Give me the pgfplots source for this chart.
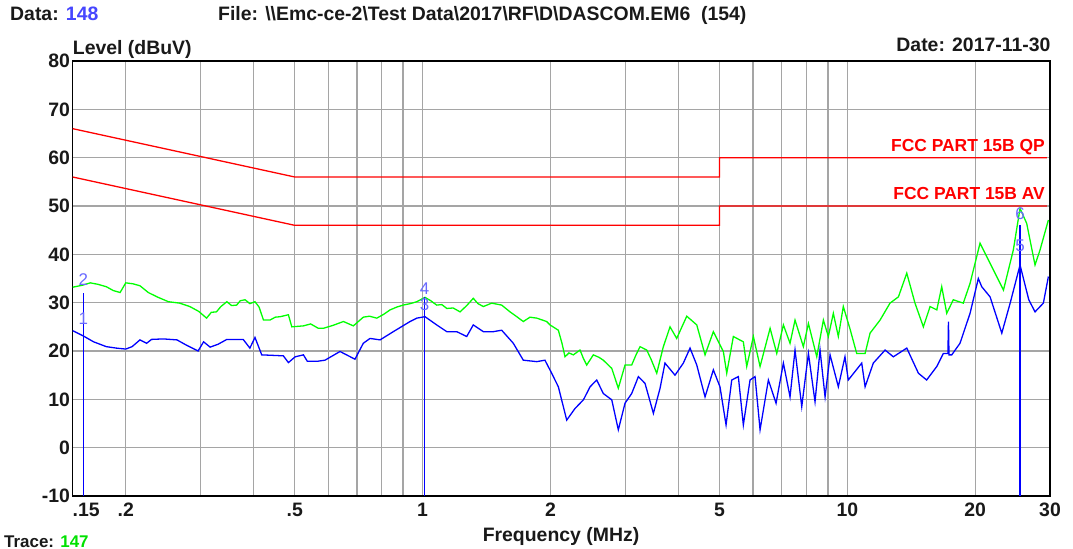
\documentclass[border=0pt]{standalone}
\usepackage{fontspec}
\setmainfont{Liberation Sans}
\usepackage{pgfplots}
\pgfplotsset{compat=1.18}
\definecolor{tgreen}{RGB}{0,255,0}
\definecolor{tblue}{RGB}{0,0,255}
\definecolor{tred}{RGB}{255,0,0}
\definecolor{mlab}{RGB}{105,105,255}
\definecolor{hblue}{RGB}{70,70,255}
\definecolor{hgreen}{RGB}{0,225,0}
\definecolor{tcol}{RGB}{25,25,25}
\definecolor{gridc}{RGB}{165,165,165}
\newcommand{\bigf}{\fontsize{19.5}{21}\selectfont}
\begin{document}
\begin{tikzpicture}
\useasboundingbox (-72.7bp,-53bp) rectangle (1000.3bp,496bp);
\begin{axis}[
  at={(0,0)}, anchor=south west,
  scale only axis, width=977.3bp, height=435bp,
  xmode=log, xmin=0.15, xmax=30, ymin=-10, ymax=80,
  clip=false,
  xtick={0.15,0.2,0.5,1,2,5,10,20,30},
  xticklabels={{\makebox[0pt][l]{.15}},.2,.5,1,2,5,10,20,30},
  minor xtick={0.3,0.4,0.6,0.7,0.8,0.9,3,4,6,7,8,9},
  ytick={-10,0,10,20,30,40,50,60,70,80},
  yticklabels={-10,0,10,20,30,40,50,60,70,80},
  grid=both,
  major grid style={gridc, line width=1.4bp},
  minor grid style={gridc, line width=1.4bp},
  major tick length=0pt, minor tick length=0pt,
  axis line style={black, line width=1.6bp},
  xticklabel style={font=\bfseries\bigf, text=tcol, anchor=north, inner sep=0pt, yshift=-6.5bp},
  yticklabel style={font=\bfseries\bigf, text=tcol, anchor=east, inner sep=0pt, xshift=-2.5bp},
]
% limit lines
\addplot[tred, line width=1.3bp] coordinates {(0.15,66) (0.5,56) (5,56) (5,60) (29.5,60)};
\addplot[tred, line width=1.3bp] coordinates {(0.15,56) (0.5,46) (5,46) (5,50) (29.5,50)};
% peak trace (green)
\addplot[tgreen, line width=1.3bp] coordinates {
(0.150,33.2) (0.158,33.6) (0.165,34.1) (0.172,33.8) (0.180,33.3) (0.187,32.5) (0.194,32.1) (0.200,34.1)
(0.208,33.9) (0.216,33.5) (0.226,32.1) (0.237,31.2) (0.252,30.2) (0.268,29.9) (0.283,29.2) (0.297,28.2)
(0.310,26.8) (0.318,28.0) (0.327,28.1) (0.335,29.2) (0.346,30.2) (0.355,29.4) (0.365,29.5) (0.372,30.4)
(0.382,30.6) (0.392,29.8) (0.403,30.2) (0.412,29.1) (0.422,26.4) (0.437,26.4) (0.450,27.0) (0.462,27.1)
(0.483,27.5) (0.492,25.0) (0.524,25.2) (0.545,25.6) (0.568,24.7) (0.584,24.7) (0.615,25.3) (0.651,26.1)
(0.687,25.2) (0.725,27.0) (0.750,27.2) (0.780,26.8) (0.810,27.6) (0.838,28.5) (0.870,29.1) (0.900,29.5)
(0.935,29.8) (0.969,30.2) (1.013,31.1) (1.045,30.4) (1.079,29.5) (1.110,29.6) (1.140,28.8) (1.180,28.9)
(1.225,28.1) (1.270,29.4) (1.316,30.9) (1.350,29.8) (1.390,29.2) (1.454,29.9) (1.535,29.5) (1.606,28.1)
(1.660,27.2) (1.726,26.1) (1.790,27.0) (1.857,26.8) (1.959,26.1) (1.995,25.4) (2.087,24.3) (2.130,21.5)
(2.164,18.8) (2.210,19.6) (2.264,19.2) (2.347,20.2) (2.390,18.5) (2.434,17.1) (2.523,19.2) (2.600,18.7)
(2.663,18.1) (2.788,16.4) (2.889,12.3) (2.996,17.1) (3.106,17.1) (3.180,19.2) (3.250,20.9) (3.370,20.2)
(3.450,18.3) (3.558,15.4) (3.688,20.9) (3.824,25.0) (3.965,22.6) (4.187,27.2) (4.420,25.4) (4.623,19.2)
(4.836,24.0) (5.105,19.9) (5.200,15.4) (5.390,23.0) (5.690,21.9) (5.796,16.8) (6.008,23.0) (6.230,16.8)
(6.578,24.7) (6.820,19.5) (7.070,25.4) (7.330,21.6) (7.531,26.4) (7.879,20.9) (8.097,25.7) (8.471,18.8)
(8.781,26.4) (9.021,23.0) (9.268,27.8) (9.522,23.0) (9.783,29.2) (10.15,24.5) (10.52,19.5) (11.01,19.5)
(11.31,23.7) (11.94,26.4) (12.60,29.9) (13.19,31.2) (13.80,36.1) (14.43,29.9) (15.10,25.0) (15.66,29.2)
(16.24,28.5) (16.68,33.3) (17.14,27.8) (17.76,30.6) (18.75,29.9) (19.45,34.0) (20.53,42.3) (21.30,39.5)
(22.30,36.0) (23.31,32.6) (24.59,40.9) (25.50,49.5) (26.44,46.4) (27.66,37.8) (28.42,40.9) (29.74,47.1)
};
% average trace (blue)
\addplot[tblue, line width=1.3bp] coordinates {
(0.150,24.2) (0.159,23.1) (0.168,21.9) (0.180,20.9) (0.190,20.6) (0.200,20.4) (0.207,20.9) (0.216,22.3)
(0.224,21.6) (0.230,22.4) (0.245,22.5) (0.264,22.3) (0.278,21.2) (0.296,20.0) (0.305,21.9) (0.316,20.8)
(0.330,21.4) (0.346,22.4) (0.378,22.4) (0.392,20.6) (0.403,22.8) (0.418,19.2) (0.470,19.0) (0.483,17.6)
(0.501,18.8) (0.524,19.2) (0.535,17.9) (0.568,17.9) (0.589,18.1) (0.639,19.9) (0.693,18.3) (0.725,21.6)
(0.752,22.6) (0.794,22.3) (0.853,24.0) (0.934,26.1) (0.969,26.8) (1.013,27.1) (1.079,25.4) (1.140,24.0)
(1.203,24.0) (1.270,23.0) (1.316,25.4) (1.390,24.0) (1.467,24.0) (1.535,24.3) (1.635,21.6) (1.726,18.1)
(1.857,17.8) (1.941,18.1) (2.013,15.4) (2.087,12.6) (2.184,5.7) (2.284,8.1) (2.391,9.9) (2.479,12.6)
(2.570,14.0) (2.663,11.2) (2.788,9.9) (2.889,3.7) (2.996,9.2) (3.106,11.2) (3.221,14.7) (3.339,13.3)
(3.494,7.1) (3.623,12.3) (3.721,17.5) (3.929,15.0) (4.110,17.5) (4.262,20.6) (4.420,17.1) (4.623,10.5)
(4.836,16.1) (5.013,12.6) (5.181,4.7) (5.343,14.0) (5.538,14.7) (5.690,4.7) (5.900,14.0) (6.063,14.7)
(6.230,3.7) (6.517,14.0) (6.794,9.2) (7.070,17.5) (7.330,10.5) (7.531,20.2) (7.811,8.5) (8.097,19.5)
(8.392,9.5) (8.624,20.2) (8.862,10.5) (9.105,19.2) (9.522,12.6) (9.871,18.8) (10.05,14.0) (10.81,17.5)
(11.01,12.6) (11.51,17.5) (12.27,20.2) (12.83,18.8) (13.80,20.6) (14.70,15.4) (15.37,14.0) (16.24,16.8)
(16.83,19.5) (17.25,19.5) (17.30,26.1) (17.35,19.2) (17.61,19.2) (18.42,21.6) (19.45,27.8) (20.34,35.0)
(20.72,33.3) (21.68,31.2) (23.10,23.7) (24.17,29.9) (25.50,37.8) (26.74,30.6) (27.66,28.1) (28.94,29.9)
(29.74,35.4)
};
% marker lines
\addplot[tblue, line width=1.4bp] coordinates {(0.159,-10) (0.159,32)};
\addplot[tblue, line width=1.4bp] coordinates {(1.011,-10) (1.011,31.2)};
\addplot[tblue, line width=1.4bp] coordinates {(25.5,-10) (25.5,46)};
% marker labels
\node[text=mlab, font=\fontsize{17}{18}\selectfont, inner sep=0pt] at (axis cs:0.159,34.7) {2};
\node[text=mlab, font=\fontsize{17}{18}\selectfont, inner sep=0pt] at (axis cs:0.159,26.7) {1};
\node[text=mlab, font=\fontsize{17}{18}\selectfont, inner sep=0pt] at (axis cs:1.011,32.8) {4};
\node[text=mlab, font=\fontsize{17}{18}\selectfont, inner sep=0pt] at (axis cs:1.011,29.6) {3};
\node[text=mlab, font=\fontsize{17}{18}\selectfont, inner sep=0pt] at (axis cs:25.5,48.5) {6};
\node[text=mlab, font=\fontsize{17}{18}\selectfont, inner sep=0pt] at (axis cs:25.5,41.7) {5};
% limit labels
\node[text=tred, font=\bfseries\fontsize{17.5}{19}\selectfont, anchor=base east, inner sep=0pt] at (axis cs:29.2,61.2) {FCC PART 15B QP};
\node[text=tred, font=\bfseries\fontsize{17.5}{19}\selectfont, anchor=base east, inner sep=0pt] at (axis cs:29.2,51.4) {FCC PART 15B AV};
\end{axis}
% header and descriptions
\node[anchor=base west, inner sep=0pt, font=\bfseries\bigf, text=tcol] at (-62.7bp,475.3bp) {Data: \textcolor{hblue}{148}};
\node[anchor=base west, inner sep=0pt, font=\bfseries\bigf, text=tcol] at (145.3bp,475.3bp) {File: \textbackslash\textbackslash Emc-ce-2\textbackslash Test Data\textbackslash 2017\textbackslash RF\textbackslash D\textbackslash DASCOM.EM6\ \ (154)};
\node[anchor=base east, inner sep=0pt, font=\bfseries\bigf, text=tcol] at (978bp,444bp) {Date: 2017-11-30};
\node[anchor=base west, inner sep=0pt, font=\bfseries\bigf, text=tcol] at (0bp,441bp) {Level (dBuV)};
\node[anchor=base, inner sep=0pt, font=\bfseries\bigf, text=tcol] at (488.3bp,-45bp) {Frequency (MHz)};
\node[anchor=base west, inner sep=0pt, font=\bfseries\fontsize{17}{18}\selectfont, text=tcol] at (-68.7bp,-51.5bp) {Trace: \textcolor{hgreen}{147}};
\end{tikzpicture}
\end{document}
